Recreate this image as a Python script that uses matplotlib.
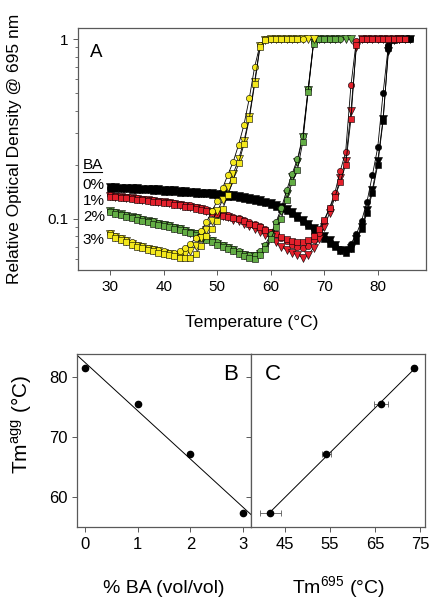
import numpy as np
import matplotlib.pyplot as plt
from matplotlib.ticker import LogLocator, NullFormatter, FixedLocator, FixedFormatter

plt.rcParams['font.family'] = ['Liberation Sans', 'DejaVu Sans']
plt.rcParams['mathtext.default'] = 'regular'

# ---- panel A: relative OD at 695 nm, 1 degC steps starting at 30 degC ----
t_start = 30

# 3% BA (yellow)
y3_circ = [0.083, 0.080, 0.078, 0.076, 0.074, 0.072, 0.071, 0.069, 0.068, 0.067,
           0.066, 0.065, 0.065, 0.066, 0.069, 0.073, 0.078, 0.086, 0.096, 0.110,
           0.126, 0.148, 0.176, 0.208, 0.258, 0.333, 0.468, 0.70, 0.93, 1.0,
           1.0, 1.0, 1.0, 1.0, 1.0, 1.0, 1.0]
y3_tri = [0.082, 0.079, 0.077, 0.075, 0.073, 0.071, 0.070, 0.068, 0.067, 0.066,
          0.065, 0.064, 0.063, 0.063, 0.064, 0.066, 0.071, 0.078, 0.087, 0.097,
          0.110, 0.127, 0.150, 0.178, 0.215, 0.27, 0.37, 0.58, 0.92, 0.99,
          1.0, 1.0, 1.0, 1.0, 1.0, 1.0, 1.0, 1.0, 1.0]
y3_sq = [0.081, 0.078, 0.076, 0.074, 0.072, 0.070, 0.069, 0.067, 0.066, 0.065,
         0.064, 0.063, 0.062, 0.061, 0.061, 0.061, 0.064, 0.071, 0.080, 0.088,
         0.097, 0.113, 0.135, 0.165, 0.204, 0.26, 0.36, 0.56, 0.90, 0.99,
         1.0, 1.0, 1.0, 1.0, 1.0, 1.0]

# 2% BA (green)
y2_circ = [0.111, 0.109, 0.107, 0.105, 0.103, 0.102, 0.100, 0.098, 0.097, 0.095,
           0.094, 0.092, 0.090, 0.089, 0.087, 0.085, 0.083, 0.080, 0.078, 0.076,
           0.074, 0.072, 0.070, 0.068, 0.066, 0.064, 0.063, 0.063, 0.066, 0.072,
           0.082, 0.096, 0.115, 0.145, 0.178, 0.215, 0.29, 0.53, 0.96, 1.0,
           1.0, 1.0, 1.0, 1.0]
y2_tri = [0.110, 0.108, 0.106, 0.104, 0.102, 0.101, 0.099, 0.097, 0.096, 0.094,
          0.093, 0.091, 0.089, 0.088, 0.086, 0.084, 0.082, 0.079, 0.077, 0.075,
          0.073, 0.071, 0.069, 0.067, 0.065, 0.063, 0.062, 0.062, 0.064, 0.070,
          0.079, 0.093, 0.110, 0.138, 0.170, 0.208, 0.285, 0.52, 0.95, 1.0,
          1.0, 1.0, 1.0, 1.0, 1.0, 1.0]
y2_sq = [0.109, 0.107, 0.105, 0.103, 0.101, 0.099, 0.098, 0.096, 0.094, 0.093,
         0.091, 0.090, 0.088, 0.087, 0.085, 0.083, 0.081, 0.078, 0.076, 0.074,
         0.072, 0.070, 0.068, 0.066, 0.064, 0.062, 0.061, 0.060, 0.063, 0.068,
         0.077, 0.090, 0.100, 0.128, 0.160, 0.187, 0.269, 0.51, 0.94, 1.0,
         1.0, 1.0, 1.0]

# 1% BA (red)
y1_circ = [0.135, 0.134, 0.133, 0.132, 0.131, 0.130, 0.129, 0.128, 0.127, 0.126,
           0.125, 0.124, 0.123, 0.121, 0.120, 0.119, 0.117, 0.115, 0.113, 0.111,
           0.109, 0.107, 0.105, 0.103, 0.101, 0.099, 0.096, 0.094, 0.091, 0.088,
           0.085, 0.082, 0.078, 0.075, 0.072, 0.070, 0.069, 0.071, 0.076, 0.084,
           0.097, 0.115, 0.140, 0.185, 0.235, 0.555, 0.98, 1.0, 1.0, 1.0,
           1.0, 1.0, 1.0, 1.0, 1.0]
y1_tri = [0.134, 0.133, 0.132, 0.131, 0.130, 0.129, 0.128, 0.127, 0.126, 0.125,
          0.124, 0.122, 0.121, 0.120, 0.118, 0.117, 0.115, 0.113, 0.111, 0.109,
          0.107, 0.104, 0.102, 0.099, 0.097, 0.094, 0.091, 0.088, 0.085, 0.081,
          0.078, 0.074, 0.070, 0.067, 0.065, 0.063, 0.061, 0.063, 0.069, 0.077,
          0.090, 0.108, 0.132, 0.168, 0.210, 0.40, 0.90, 1.0, 1.0, 1.0,
          1.0, 1.0, 1.0, 1.0, 1.0]
y1_sq = [0.133, 0.132, 0.131, 0.130, 0.129, 0.128, 0.127, 0.126, 0.125, 0.124,
         0.123, 0.122, 0.120, 0.119, 0.117, 0.116, 0.114, 0.112, 0.110, 0.108,
         0.106, 0.104, 0.102, 0.101, 0.100, 0.097, 0.094, 0.092, 0.090, 0.087,
         0.085, 0.082, 0.079, 0.077, 0.075, 0.074, 0.074, 0.076, 0.080, 0.088,
         0.099, 0.115, 0.133, 0.160, 0.200, 0.36, 0.93, 1.0, 1.0, 1.0,
         1.0, 1.0, 1.0, 1.0, 1.0, 1.0]

# 0% BA (black)
y0_circ = [0.149, 0.149, 0.148, 0.148, 0.147, 0.147, 0.146, 0.146, 0.145, 0.145,
           0.144, 0.144, 0.143, 0.142, 0.142, 0.141, 0.140, 0.139, 0.139, 0.138,
           0.137, 0.136, 0.135, 0.134, 0.133, 0.131, 0.130, 0.128, 0.126, 0.124,
           0.122, 0.119, 0.116, 0.112, 0.108, 0.103, 0.098, 0.093, 0.088, 0.083,
           0.079, 0.075, 0.071, 0.068, 0.068, 0.073, 0.082, 0.098, 0.125, 0.175,
           0.25, 0.50, 0.93, 1.0, 1.0, 1.0, 1.0]
y0_tri = [0.150, 0.150, 0.149, 0.149, 0.148, 0.148, 0.147, 0.147, 0.146, 0.146,
          0.145, 0.145, 0.144, 0.143, 0.143, 0.142, 0.141, 0.140, 0.140, 0.139,
          0.138, 0.137, 0.136, 0.135, 0.134, 0.132, 0.131, 0.129, 0.127, 0.125,
          0.123, 0.120, 0.117, 0.113, 0.109, 0.104, 0.099, 0.094, 0.089, 0.084,
          0.080, 0.076, 0.072, 0.067, 0.066, 0.069, 0.077, 0.090, 0.112, 0.145,
          0.21, 0.36, 0.86, 0.99, 1.0, 1.0, 1.0]
y0_sq = [0.147, 0.147, 0.146, 0.146, 0.145, 0.145, 0.144, 0.144, 0.143, 0.143,
         0.142, 0.142, 0.141, 0.140, 0.140, 0.139, 0.138, 0.137, 0.137, 0.136,
         0.135, 0.134, 0.133, 0.132, 0.131, 0.129, 0.128, 0.126, 0.124, 0.122,
         0.120, 0.117, 0.114, 0.110, 0.106, 0.101, 0.096, 0.091, 0.086, 0.081,
         0.077, 0.073, 0.070, 0.066, 0.065, 0.068, 0.075, 0.088, 0.108, 0.140,
         0.20, 0.35, 0.89, 0.99, 1.0, 1.0, 1.0]

ba_labels = ['0%', '1%', '2%', '3%']

# ---- panels B and C ----
ba_pct = [0, 1, 2, 3]
tm_agg = [81.4, 75.4, 67.2, 57.3]
tm_695 = [73.7, 66.3, 54.1, 41.7]
tm_695_err = [0.3, 1.5, 1.0, 2.4]

colors = {'0%': '#000000', '1%': '#e3202b', '2%': '#63ad45', '3%': '#f4e81c'}
series = [
    ('0%', y0_tri, y0_circ, y0_sq),
    ('1%', y1_tri, y1_circ, y1_sq),
    ('2%', y2_tri, y2_circ, y2_sq),
    ('3%', y3_tri, y3_circ, y3_sq),
]

fig = plt.figure(figsize=(4.29, 6.0), dpi=100)
spine_col = '0.35'

# panel A
axA = fig.add_axes([0.1818, 0.55, 0.811, 0.403])
for lab, tri, circ, sq in series:
    c = colors[lab]
    for vals, mk, ms in [(tri, 'v', 5.2), (circ, 'o', 4.5), (sq, 's', 4.7)]:
        t = np.arange(t_start, t_start + len(vals))
        axA.plot(t, vals, color='k', lw=0.6, marker=mk, ms=ms,
                 markerfacecolor=c, markeredgecolor='k', markeredgewidth=0.4)
axA.set_yscale('log')
axA.set_xlim(24, 89)
axA.set_ylim(0.052, 1.15)
axA.set_xticks([30, 40, 50, 60, 70, 80])
axA.yaxis.set_major_locator(FixedLocator([0.1, 1]))
axA.yaxis.set_major_formatter(FixedFormatter(['0.1', '1']))
axA.yaxis.set_minor_locator(LogLocator(base=10, subs=np.arange(2, 10)))
axA.yaxis.set_minor_formatter(NullFormatter())
axA.tick_params(axis='both', which='major', labelsize=11, length=3.5, width=0.7, color=spine_col)
axA.tick_params(axis='y', which='minor', length=2, width=0.6, color=spine_col)
for s in axA.spines.values():
    s.set_color(spine_col)
    s.set_linewidth(0.9)
axA.text(0.034, 0.899, 'A', transform=axA.transAxes, fontsize=13.5, va='center', ha='left')

# BA legend text
axA.text(0.014, 0.434, 'BA', transform=axA.transAxes, fontsize=11, va='center', ha='left')
axA.plot([0.014, 0.068], [0.405, 0.405], transform=axA.transAxes, color='k', lw=0.8)
for lab, yy in zip(ba_labels, [0.351, 0.285, 0.219, 0.124]):
    axA.text(0.014, yy, lab, transform=axA.transAxes, fontsize=11, va='center', ha='left')

fig.text(15 / 429, 1 - 149 / 600, 'Relative Optical Density @ 695 nm', rotation=90,
         ha='center', va='center', fontsize=12.5)
fig.text(252 / 429, 1 - 322 / 600, 'Temperature (°C)', ha='center', va='center', fontsize=12.5)

# panel B
axB = fig.add_axes([0.180, 0.1217, 0.405, 0.2883])
axB.plot(ba_pct, tm_agg, 'o', color='k', ms=4.5)
fitB = np.polyfit(ba_pct, tm_agg, 1)
xb = np.array([-0.146, 3.146])
axB.plot(xb, np.polyval(fitB, xb), color='k', lw=0.7)
axB.set_xlim(-0.146, 3.146)
axB.set_ylim(55, 83.8)
axB.set_xticks([0, 1, 2, 3])
axB.set_yticks([60, 70, 80])
axB.tick_params(labelsize=12, length=3.5, width=0.7, color=spine_col)
axB.text(0.839, 0.88, 'B', transform=axB.transAxes, fontsize=16, va='center', ha='left')

# panel C
axC = fig.add_axes([0.585, 0.1217, 0.4056, 0.2883])
axC.errorbar(tm_695, tm_agg, xerr=tm_695_err, fmt='o', color='k', ms=4.5,
             ecolor='0.35', elinewidth=0.6, capsize=2, capthick=0.6)
fitC = np.polyfit(tm_695, tm_agg, 1)
xc = np.array([min(tm_695), max(tm_695)])
axC.plot(xc, np.polyval(fitC, xc), color='k', lw=0.7)
axC.set_xlim(37.4, 76.1)
axC.set_ylim(55, 83.8)
axC.set_xticks([45, 55, 65, 75])
axC.set_yticks([60, 70, 80])
axC.set_yticklabels([])
axC.tick_params(labelsize=12, length=3.5, width=0.7, color=spine_col)
axC.text(0.08, 0.88, 'C', transform=axC.transAxes, fontsize=16, va='center', ha='left')

for ax in (axB, axC):
    for s in ax.spines.values():
        s.set_color(spine_col)
        s.set_linewidth(0.9)

fig.text(21 / 429, 1 - 424 / 600, 'Tm$^{agg}$ (°C)', rotation=90, ha='center', va='center', fontsize=15)
fig.text(164 / 429, 1 - 593 / 600, '% BA (vol/vol)', ha='center', va='baseline', fontsize=14)
fig.text(338 / 429, 1 - 593 / 600, 'Tm$^{695}$ (°C)', ha='center', va='baseline', fontsize=14)

fig.savefig('out.png', dpi=100)
